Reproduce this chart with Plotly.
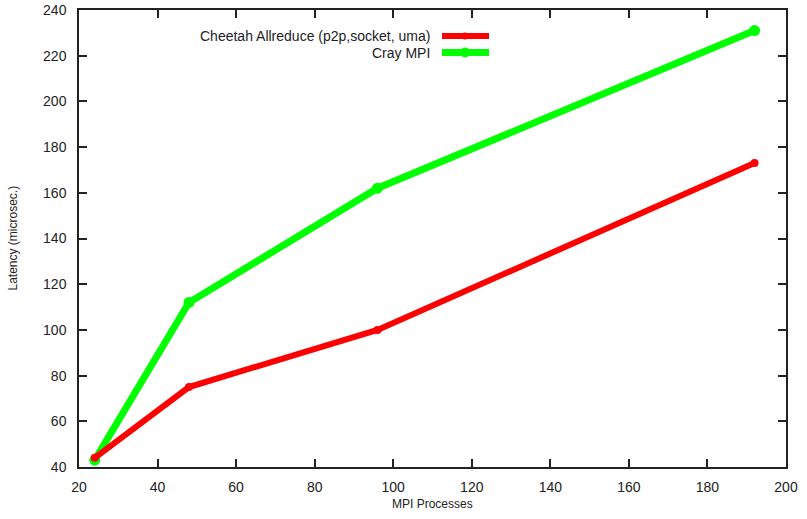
import plotly.graph_objects as go

processes = [24, 48, 96, 192]
cheetah_latency = [44, 75, 100, 173]
cray_latency = [43, 112, 162, 231]

series_names = ["Cheetah Allreduce (p2p,socket, uma)", "Cray MPI"]
series_colors = ["#ff0000", "#00ff00"]

x_ticks = [20, 40, 60, 80, 100, 120, 140, 160, 180, 200]
y_ticks = [40, 60, 80, 100, 120, 140, 160, 180, 200, 220, 240]

FONT = "Liberation Sans, Arial, Helvetica, sans-serif"

fig = go.Figure()
fig.add_trace(go.Scatter(
    x=processes, y=cray_latency, mode="lines+markers", name=series_names[1],
    line=dict(color=series_colors[1], width=7),
    marker=dict(color=series_colors[1], size=11, symbol="circle"),
    showlegend=False))
fig.add_trace(go.Scatter(
    x=processes, y=cheetah_latency, mode="lines+markers", name=series_names[0],
    line=dict(color=series_colors[0], width=6),
    marker=dict(color=series_colors[0], size=8, symbol="circle"),
    showlegend=False))

W, H = 807, 519
L, R, T, B = 79, 21, 10, 52
pw, ph = W - L - R, H - T - B

def px(x):
    return (x - L) / pw

def py(y):
    return (H - B - y) / ph

# legend drawn manually (text left of sample, gnuplot style)
rows = [(36, series_names[0], series_colors[0], 7, 6),
        (52.5, series_names[1], series_colors[1], 10, 7)]
for yy, name, col, msize, lw in rows:
    fig.add_annotation(x=px(431), y=py(yy), xref="paper", yref="paper",
                       text=name, showarrow=False, xanchor="right", yanchor="middle",
                       borderpad=0,
                       font=dict(family=FONT, size=14, color="#222"))
    fig.add_shape(type="line", xref="paper", yref="paper",
                  x0=px(442), x1=px(489), y0=py(yy), y1=py(yy),
                  line=dict(color=col, width=lw))
    fig.add_shape(type="circle", xref="paper", yref="paper",
                  x0=px(465 - msize / 2), x1=px(465 + msize / 2),
                  y0=py(yy + msize / 2), y1=py(yy - msize / 2),
                  fillcolor=col, line=dict(width=0))

fig.add_annotation(x=0.5, y=0, xref="paper", yref="paper", yshift=-37,
                   text="MPI Processes", showarrow=False, yanchor="middle",
                   font=dict(family=FONT, size=12, color="#222"))
fig.add_annotation(x=0, y=0.5, xref="paper", yref="paper", xshift=-(L - 12),
                   text="Latency (microsec.)", showarrow=False, textangle=-90,
                   xanchor="center", yanchor="middle",
                   font=dict(family=FONT, size=12, color="#222"))

axis_common = dict(showgrid=False, zeroline=False, showline=True, linecolor="#222",
                   linewidth=1.5, mirror="ticks", ticks="inside", ticklen=8,
                   tickwidth=1.5, tickcolor="#222",
                   tickfont=dict(family=FONT, size=14, color="#222"))
fig.update_xaxes(range=[20, 200], tickvals=x_ticks, ticktext=[str(v) for v in x_ticks],
                 ticklabelstandoff=6, **axis_common)
fig.update_yaxes(range=[40, 240], tickvals=y_ticks, ticktext=[str(v) for v in y_ticks],
                 ticklabelstandoff=8, **axis_common)

fig.update_layout(width=W, height=H, margin=dict(l=L, r=R, t=T, b=B, autoexpand=False),
                  plot_bgcolor="white", paper_bgcolor="white", showlegend=False)
fig.write_html("out.html", config={"displayModeBar": False},
               post_script="document.body.style.margin='0';document.body.style.overflow='hidden';")
